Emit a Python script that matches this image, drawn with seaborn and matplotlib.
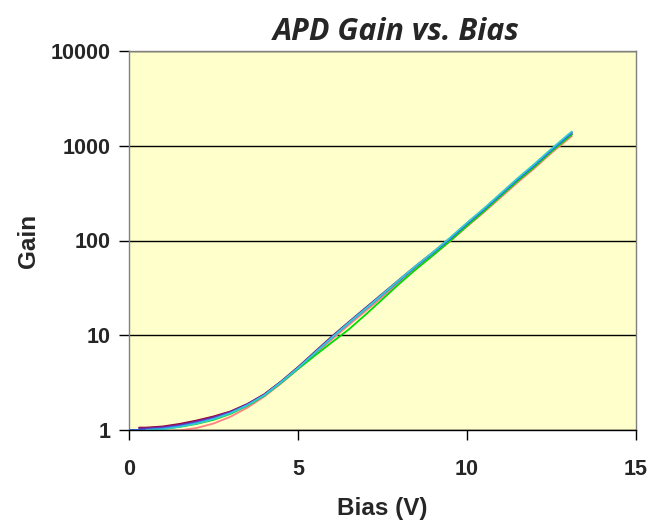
import matplotlib
matplotlib.use("Agg")
import matplotlib.pyplot as plt
import matplotlib.ticker as mticker
import seaborn as sns
import pandas as pd
import numpy as np

# ---- data ----
bias = [0, 0.3, 0.5, 1, 1.5, 2, 2.5, 3, 3.5, 4, 4.5, 5, 5.5, 6, 6.5, 7, 7.5,
        8, 8.5, 9, 9.5, 10, 10.5, 11, 11.5, 12, 12.5, 13, 13.1]

gain_darkred = [None, 1.06, 1.06, 1.09, 1.16, 1.26, 1.39, 1.57, 1.88, 2.38, 3.25, 4.6, 6.6, 9.6, 13.6,
                19.2, 27.0, 38, 53.5, 74, 103, 147, 208, 300, 433, 612, 880, 1245, 1330]
gain_salmon = [None, None, 0.97, 0.97, 0.99, 1.05, 1.17, 1.38, 1.72, 2.25, 3.1, 4.4, 6.3, 9.0, 12.8,
               18.0, 25.4, 36, 50.5, 70, 98, 140, 198, 285, 410, 580, 840, 1180, 1260]
gain_green = [1.0, 1.0, 1.0, 1.03, 1.08, 1.16, 1.28, 1.48, 1.80, 2.30, 3.15, 4.4, 6.1, 8.4, 11.5,
              16.5, 24, 35, 50, 70, 99, 143, 203, 295, 425, 600, 870, 1225, 1310]
gain_purple = [None, 1.04, 1.04, 1.07, 1.13, 1.23, 1.36, 1.55, 1.87, 2.37, 3.25, 4.6, 6.7, 9.7, 13.8,
               19.5, 27.5, 38.8, 54.5, 75.5, 106, 152, 215, 310, 447, 632, 912, 1290, 1380]
gain_blue = [1.00, 1.00, 1.01, 1.04, 1.10, 1.19, 1.32, 1.52, 1.84, 2.33, 3.2, 4.5, 6.5, 9.4, 13.4,
             18.9, 26.7, 37.8, 53.5, 74, 104, 150, 212, 306, 443, 625, 902, 1275, 1365]
gain_cyan = [None, None, 1.0, 1.02, 1.08, 1.17, 1.30, 1.50, 1.82, 2.32, 3.2, 4.5, 6.5, 9.4, 13.5,
             19.0, 27, 38.5, 54.5, 75.5, 107, 154, 218, 315, 455, 645, 930, 1320, 1410]

series = {
    "A": gain_darkred,
    "B": gain_salmon,
    "C": gain_green,
    "D": gain_purple,
    "E": gain_blue,
    "F": gain_cyan,
}
colors = {"A": "#990033", "B": "#FF8080", "C": "#00DD00",
          "D": "#7030A0", "E": "#3366FF", "F": "#33CCCC"}

y_ticks = [1, 10, 100, 1000, 10000]
x_ticks = [0, 5, 10, 15]

rows = []
for name, vals in series.items():
    for v, g in zip(bias, vals):
        if g is not None:
            rows.append({"Bias": v, "Gain": g, "Series": name})
df = pd.DataFrame(rows)

sns.set_style("ticks")
plt.rcParams["font.family"] = ["Liberation Sans", "DejaVu Sans"]

fig = plt.figure(figsize=(6.51, 5.2), dpi=100)
ax = fig.add_axes([129/651, 1 - 430/520, (636-129)/651, (430-51)/520])
ax.set_facecolor("#FFFFCC")

sns.lineplot(data=df, x="Bias", y="Gain", hue="Series", palette=colors,
             linewidth=1.3, legend=False, ax=ax, sort=True, estimator=None)

ax.set_yscale("log")
ax.set_ylim(1, 10000)
ax.set_xlim(0, 15)
ax.set_yticks(y_ticks)
ax.yaxis.set_major_formatter(mticker.FuncFormatter(lambda v, p: f"{int(round(v))}"))
ax.yaxis.set_minor_locator(mticker.NullLocator())
ax.set_xticks(x_ticks)
ax.set_xticklabels([str(t) for t in x_ticks])

ax.grid(True, axis="y", which="major", color="black", linewidth=1.0)
ax.set_axisbelow(True)

for s in ax.spines.values():
    s.set_color("#808080")
    s.set_linewidth(1.0)
ax.spines["bottom"].set_color("black")

ax.tick_params(axis="both", which="major", direction="out", length=7, width=1,
               color="black", labelsize=15.5)
ax.tick_params(axis="y", pad=6)
ax.tick_params(axis="x", pad=14)
for lab in ax.get_xticklabels() + ax.get_yticklabels():
    lab.set_fontweight("bold")

ax.set_xlabel("Bias (V)", fontsize=17.5, fontweight="bold", va="baseline")
ax.xaxis.set_label_coords(0.5, (430 - 515) / 379)
ax.set_ylabel("Gain", fontsize=17.5, fontweight="bold", va="baseline")
ax.yaxis.set_label_coords((35 - 129) / 507, 0.5)

fig.text(396/651, 1 - 40/520, "APD Gain vs. Bias", ha="center", va="baseline",
         fontsize=22, fontweight="bold", fontstyle="italic",
         family=["Open Sans", "DejaVu Sans"])

fig.savefig("out.png", dpi=100, facecolor="white")
